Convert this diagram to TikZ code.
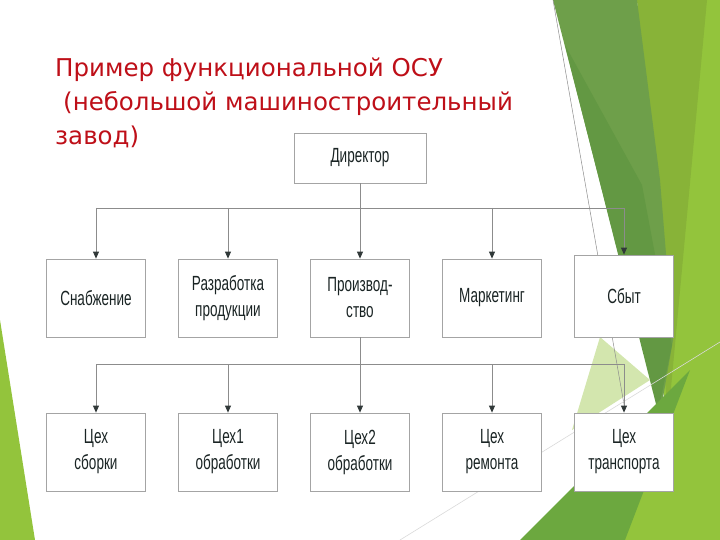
\documentclass[tikz,border=0pt]{standalone}
\usepackage{fontspec}
\newfontfamily\titlefont{DejaVu Sans}
\newfontfamily\boxfont[FakeStretch=0.66]{Liberation Sans}
\usetikzlibrary{arrows.meta}
\definecolor{titlered}{HTML}{BE0F18}
\definecolor{boxgray}{HTML}{A4A4A4}
\definecolor{linegray}{HTML}{8C8C8C}
\definecolor{tipgray}{HTML}{303838}
\definecolor{boxtext}{HTML}{1A2424}
\definecolor{limeA}{HTML}{93C43C}
\definecolor{ygreen}{HTML}{88B338}
\definecolor{dkgreen}{HTML}{6E9F4A}
\definecolor{dkgreenB}{HTML}{639843}
\definecolor{midgreen}{HTML}{6CA83F}
\definecolor{palegreen}{HTML}{D3E6AE}

\begin{document}
\begin{tikzpicture}[x=1pt,y=-1pt,
    box/.style={draw=boxgray, fill=white, line width=0.8pt, minimum width=99pt, minimum height=78pt,
        inner sep=0pt, align=center, text=boxtext, font=\boxfont\fontsize{20.5}{26}\selectfont},
    link/.style={draw=linegray, line width=0.8pt},
    arr/.style={link, -{Triangle[length=7pt,width=6pt,color=tipgray]}},
    title/.style={anchor=base west, inner sep=0pt, text=titlered, font=\titlefont\fontsize{24.5}{30}\selectfont}]
    \useasboundingbox (0,0) rectangle (720,540); % 画布大小
    % 右侧和左下的绿色块
    \fill[limeA] (640,0) -- (720,0) -- (720,540) -- (623,540) -- (665,415) -- cycle;
    \fill[ygreen] (637,0) -- (707,0) -- (668,420) -- cycle;
    \fill[dkgreen] (553,0) -- (637,0) -- (660,180) -- (673,340) -- (660,415) -- cycle;
    \fill[dkgreenB] (565,45) -- (642,185) -- (672,345) -- (658,412) -- cycle;
    \fill[midgreen] (520,540) -- (625,540) -- (690,370) -- cycle;
    \fill[palegreen] (600,337) -- (572,430) -- (650,380) -- cycle;
    \fill[limeA] (0,320) -- (35,540) -- (0,540) -- cycle;
    \draw[linegray, line width=0.5pt] (553,0) -- (625,410); % 细线
    \draw[black!15, line width=0.6pt] (400,540) -- (720,342); % 浅线
    % 方框
    \node[box, minimum width=132pt, minimum height=50pt] (dir) at (360,158) {Директор}; % 第一层
    \node[box] (snab)  at (96,298)  {Снабжение}; % 第二层
    \node[box] (razr)  at (228,298) {Разработка\\продукции};
    \node[box] (proiz) at (360,298) {Производ-\\ство};
    \node[box] (mark)  at (492,298) {Маркетинг};
    \node[box, minimum height=82pt] (sbyt) at (624,296) {Сбыт};
    \node[box] (sbor)  at (96,452)  {Цех\\сборки}; % 第三层
    \node[box] (obr1)  at (228,452) {Цех1\\обработки};
    \node[box] (obr2)  at (360,452) {Цех2\\обработки};
    \node[box] (rem)   at (492,452) {Цех\\ремонта};
    \node[box] (trans) at (624,452) {Цех\\транспорта};
    % 连线
    \coordinate (b1) at (360,208);
    \coordinate (b2) at (360,364);
    \draw[link] (dir) -- (b1);
    \draw[link] (snab.north |- b1) -- (sbyt.north |- b1);
    \foreach \n in {snab,razr,proiz,mark,sbyt} \draw[arr] (\n.north |- b1) -- (\n);
    \draw[link] (proiz) -- (b2);
    \draw[link] (sbor.north |- b2) -- (trans.north |- b2);
    \foreach \n in {sbor,obr1,obr2,rem,trans} \draw[arr] (\n.north |- b2) -- (\n);
    % 标题
    \node[title] (t1) at (55,77)  {Пример функциональной ОСУ};
    \node[title] (t2) at (63,111) {(небольшой машиностроительный};
    \node[title] (t3) at (55,145) {завод)};
\end{tikzpicture}
\end{document}
